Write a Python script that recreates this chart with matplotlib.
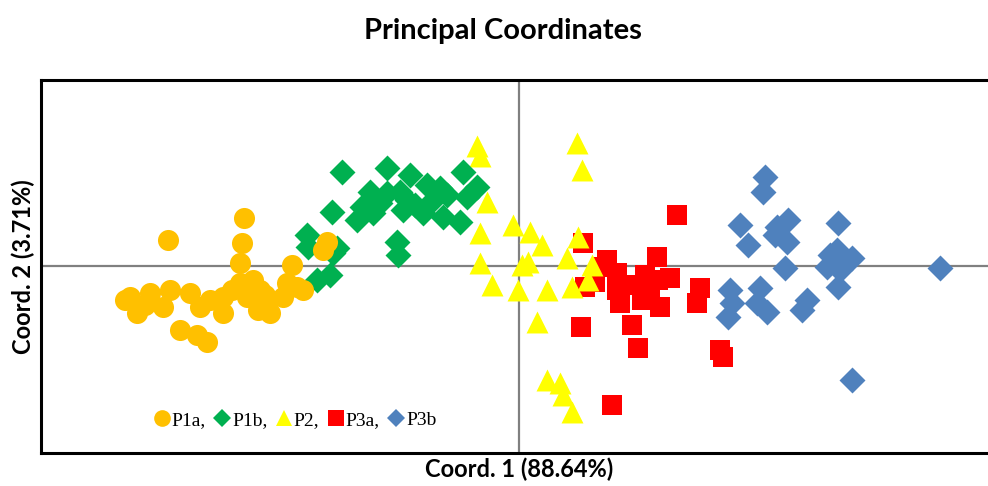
import matplotlib
matplotlib.use("Agg")
import matplotlib.pyplot as plt
from matplotlib.lines import Line2D

# Principal coordinate scores (Coord. 1, Coord. 2)
p1a_x = [-3.51, -2.75, -2.77, -2.79, -2.27, -1.92, -1.96, -3.89, -3.69, -3.82, -3.49, -3.56,
         -3.29, -3.19, -3.39, -3.22, -3.12, -2.96, -2.96, -2.79, -2.66, -2.59, -2.52, -2.49,
         -2.72, -2.36, -2.22, -2.16, -2.32, -3.94, -3.74, -3.09, -2.87, -2.61, -2.54]
p1a_y = [0.26, 0.48, 0.23, 0.03, 0.01, 0.24, 0.16, -0.31, -0.27, -0.47, -0.24, -0.41,
         -0.27, -0.41, -0.64, -0.69, -0.76, -0.31, -0.47, -0.17, -0.14, -0.24, -0.37, -0.47,
         -0.31, -0.31, -0.21, -0.24, -0.17, -0.34, -0.39, -0.34, -0.24, -0.44, -0.29]

p1b_x = [-1.77, -1.32, -1.09, -0.56, -0.42, -1.49, -1.32, -1.19, -1.12, -0.92, -0.79, -0.86,
         -0.72, -0.52, -1.57, -1.62, -1.46, -1.16, -0.96, -0.76, -0.59, -1.87, -2.12, -1.82,
         -1.22, -1.21, -2.02, -1.89, -2.11, -1.86, -1.39, -1.04]
p1b_y = [0.94, 0.98, 0.91, 0.94, 0.79, 0.74, 0.73, 0.74, 0.66, 0.81, 0.78, 0.66,
         0.71, 0.69, 0.59, 0.46, 0.53, 0.56, 0.53, 0.49, 0.44, 0.54, 0.31, 0.18,
         0.24, 0.11, -0.14, -0.09, 0.19, 0.13, 0.63, 0.61]

p2_x = [-0.42, -0.39, 0.58, 0.63, -0.32, -0.39, -0.06, 0.11, 0.23, 0.59, -0.39, 0.03, 0.09,
        0.48, 0.73, 0.69, -0.27, -0.01, 0.28, 0.53, 0.18, 0.28, 0.41, 0.44, 0.53]
p2_y = [1.20, 1.10, 1.23, 0.96, 0.64, 0.33, 0.41, 0.34, 0.21, 0.29, 0.03, 0.01, 0.04,
        0.08, 0.01, -0.14, -0.19, -0.24, -0.24, -0.21, -0.56, -1.14, -1.17, -1.29, -1.46]

p3a_x = [0.64, 0.62, 0.93, 0.66, 1.58, 0.88, 0.98, 1.38, 1.39, 1.51, 1.31, 1.41, 1.01,
         1.13, 1.23, 1.81, 1.78, 1.19, 2.01, 2.04, 0.84, 0.98, 1.11, 1.26, 0.76]
p3a_y = [0.23, -0.61, -1.39, -0.21, 0.51, 0.06, -0.07, 0.09, -0.14, -0.12, -0.27, -0.41, -0.37,
         -0.59, -0.34, -0.22, -0.37, -0.82, -0.84, -0.91, -0.01, -0.24, -0.19, -0.09, -0.16]

p3b_x = [2.46, 2.44, 2.21, 2.29, 2.58, 2.69, 2.68, 2.56, 3.19, 3.18, 3.33, 3.08, 3.21, 3.19,
         2.66, 4.21, 2.11, 2.13, 2.09, 2.41, 2.38, 2.48, 2.88, 2.83, 3.33, 3.26, 3.11]
p3b_y = [0.89, 0.74, 0.41, 0.21, 0.39, 0.46, 0.24, 0.31, 0.43, 0.16, 0.08, -0.01, -0.04, -0.21,
         -0.02, -0.02, -0.24, -0.37, -0.51, -0.22, -0.37, -0.46, -0.34, -0.44, -1.14, 0.06, 0.11]

labels = ["P1a,", "P1b,", "P2,", "P3a,", "P3b"]
colors = ["#FFC000", "#00B050", "#FFFF00", "#FF0000", "#4F81BD"]
markers = ["o", "D", "^", "s", "D"]
sizes = [230, 175, 250, 200, 175]

fig = plt.figure(figsize=(9.88, 4.86), dpi=100)
ax = fig.add_axes([41 / 988, 33 / 486, 957 / 988, 373 / 486])

series = [(p1a_x, p1a_y), (p1b_x, p1b_y), (p2_x, p2_y), (p3a_x, p3a_y), (p3b_x, p3b_y)]
# later series sit underneath, as in the original
zorders = [7, 6, 5, 4, 3]
for (xs, ys), c, m, s, z in zip(series, colors, markers, sizes, zorders):
    ax.scatter(xs, ys, c=c, marker=m, s=s, linewidths=0, zorder=z)

ax.axhline(0, color="#808080", lw=1.6, zorder=1)
ax.axvline(0, color="#808080", lw=1.6, zorder=1)

ax.set_xlim(-4.78, 4.79)
ax.set_ylim(-1.87, 1.86)
ax.set_xticks([])
ax.set_yticks([])
for sp in ax.spines.values():
    sp.set_linewidth(2.2)
    sp.set_color("black")

ax.set_xlabel("Coord. 1 (88.64%)", family="Lato", weight="bold", fontsize=17, labelpad=3)
ax.set_ylabel("Coord. 2 (3.71%)", family="Lato", weight="bold", fontsize=17, labelpad=4)
fig.text(0.509, 0.936, "Principal Coordinates", family="Lato", weight="bold",
         fontsize=21, ha="center", va="center")

handles = [Line2D([], [], ls="none", marker=m, color=c, markersize=ms, markeredgewidth=0)
           for m, c, ms in zip(markers, colors, [12, 9, 12, 11, 9])]
ax.legend(handles, labels, ncol=5, frameon=False, loc="center left",
          bbox_to_anchor=(0.1, 0.088), handlelength=0.8, handletextpad=0.1,
          columnspacing=0.45, prop={"family": "Liberation Serif", "size": 14})

fig.savefig("out.png", dpi=100)
